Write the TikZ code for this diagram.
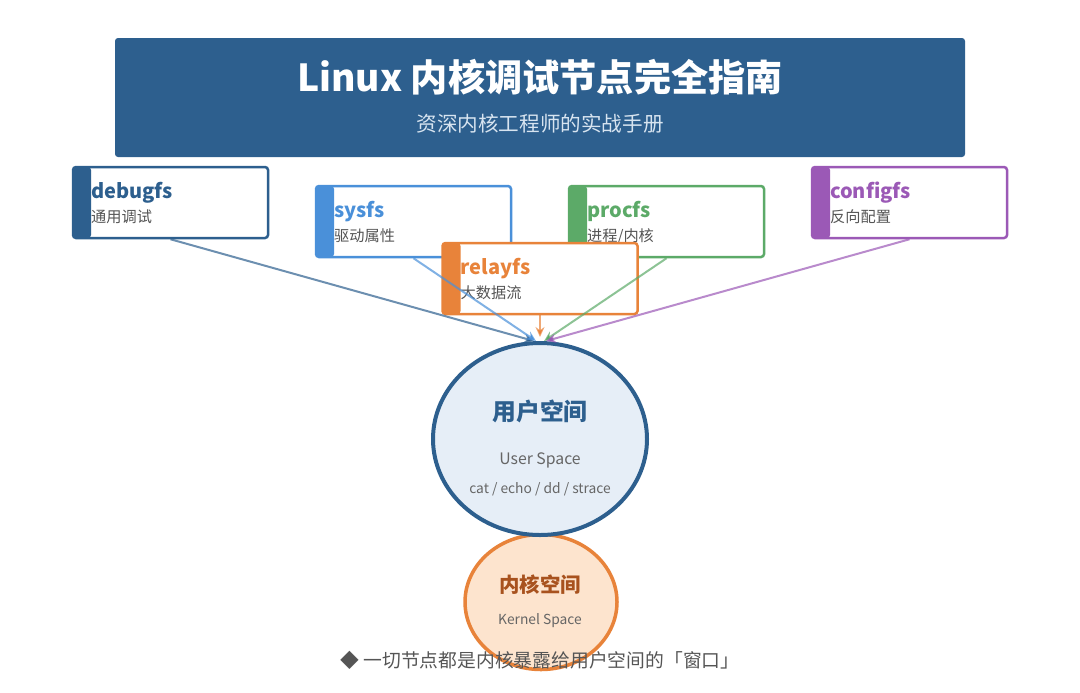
\documentclass[tikz,border=0pt]{standalone}
\usepackage{fontspec}
\setmainfont{Noto Sans CJK SC}
\usepackage{tikz}
\usetikzlibrary{arrows.meta,positioning,shapes.geometric}
\usepackage{xcolor}
\definecolor{headblue}{RGB}{45,95,142}
\definecolor{sysblue}{RGB}{74,144,217}
\definecolor{relayorange}{RGB}{232,131,58}
\definecolor{procgreen}{RGB}{92,170,104}
\definecolor{cfgpurple}{RGB}{155,89,182}
\definecolor{userfill}{RGB}{230,238,247}
\definecolor{kernfill}{RGB}{253,228,206}
\definecolor{kerntext}{RGB}{168,82,30}
\definecolor{subgray}{RGB}{85,85,85}

\begin{document}
\begin{tikzpicture}[x=0.5pt,y=-0.5pt,
    fsbox/.style={draw=#1, fill=white, line width=1.25pt, rounded corners=1.5pt,
        minimum width=97.5pt, minimum height=35.5pt, inner sep=0pt,
        path picture={\fill[#1] (path picture bounding box.north west)
            rectangle ([xshift=9pt]path picture bounding box.south west);}},
    fslabel/.style={anchor=base west, inner sep=0pt, text=#1,
        font=\fontsize{10}{12}\selectfont\bfseries},
    fsnote/.style={anchor=base west, inner sep=0pt, text=subgray,
        font=\fontsize{7.6}{9}\selectfont},
    feed/.style={-{Stealth[length=5pt,width=4.5pt]}, line width=1pt,
        draw=#1, draw opacity=0.7},
    txt/.style={inner sep=0pt}]
\useasboundingbox (0,0) rectangle (1080,692);

% banner
\node[fill=headblue, rounded corners=1.5pt, minimum width=425pt,
    minimum height=59.5pt] (banner) at (540,97.5) {};
\node[txt, text=white, font=\fontsize{18.6}{22}\selectfont\bfseries]
    (title) at (540,77) {Linux 内核调试节点完全指南};
\node[txt, text={rgb,255:red,215;green,228;blue,240},
    font=\fontsize{10.3}{12}\selectfont] (subtitle) at (540,124) {资深内核工程师的实战手册};

% spaces
\node[ellipse, draw=relayorange, fill=kernfill, line width=1.75pt,
    minimum width=76pt, minimum height=67.5pt] (kernel) at (541,602) {};
\node[ellipse, draw=headblue, fill=userfill, line width=2pt,
    minimum width=107pt, minimum height=96pt] (user) at (540,439) {};
\node[txt, text=headblue, font=\fontsize{11.9}{14}\selectfont\bfseries]
    (user-cn) at (540,411) {用户空间};
\node[txt, text=subgray!90, font=\fontsize{7.9}{10}\selectfont]
    (user-en) at (540,460) {User Space};
\node[txt, text=subgray!90, font=\fontsize{6.9}{9}\selectfont]
    (user-cmd) at (540,489) {cat / echo / dd / strace};
\node[txt, text=kerntext, font=\fontsize{10.2}{12}\selectfont\bfseries]
    (kernel-cn) at (540,585) {内核空间};
\node[txt, text=subgray!90, font=\fontsize{6.9}{9}\selectfont]
    (kernel-en) at (540,621) {Kernel Space};

% debug nodes
\foreach \nm/\col/\x/\y/\lbl/\sub in {
    debugfs/headblue/170.5/202.5/debugfs/通用调试,
    sysfs/sysblue/413.5/221.5/sysfs/驱动属性,
    procfs/procgreen/666.5/221.5/procfs/{进程/内核},
    configfs/cfgpurple/909.5/202.5/configfs/反向配置,
    relayfs/relayorange/540/278.5/relayfs/大数据流} {
  \node[fsbox=\col] (\nm) at (\x,\y) {};
  \node[fslabel=\col] (\nm-lbl) at ([xshift=9.5pt,yshift=-16.5pt]\nm.north west) {\lbl};
  \node[fsnote] (\nm-sub) at ([xshift=9.5pt,yshift=-28.5pt]\nm.north west) {\sub};
}

\foreach \nm/\col/\dx in {debugfs/headblue/-3, sysfs/sysblue/-2,
    procfs/procgreen/2, configfs/cfgpurple/3}
  \draw[feed=\col] (\nm.south) -- ([xshift=\dx pt]user.north);
\draw[feed=relayorange] (relayfs.south) -- ([yshift=2pt]user.north);

\node[txt, text=subgray, font=\fontsize{9.4}{11}\selectfont]
    (footer) at (540,660) {◆ 一切节点都是内核暴露给用户空间的「窗口」};
\end{tikzpicture}
\end{document}
